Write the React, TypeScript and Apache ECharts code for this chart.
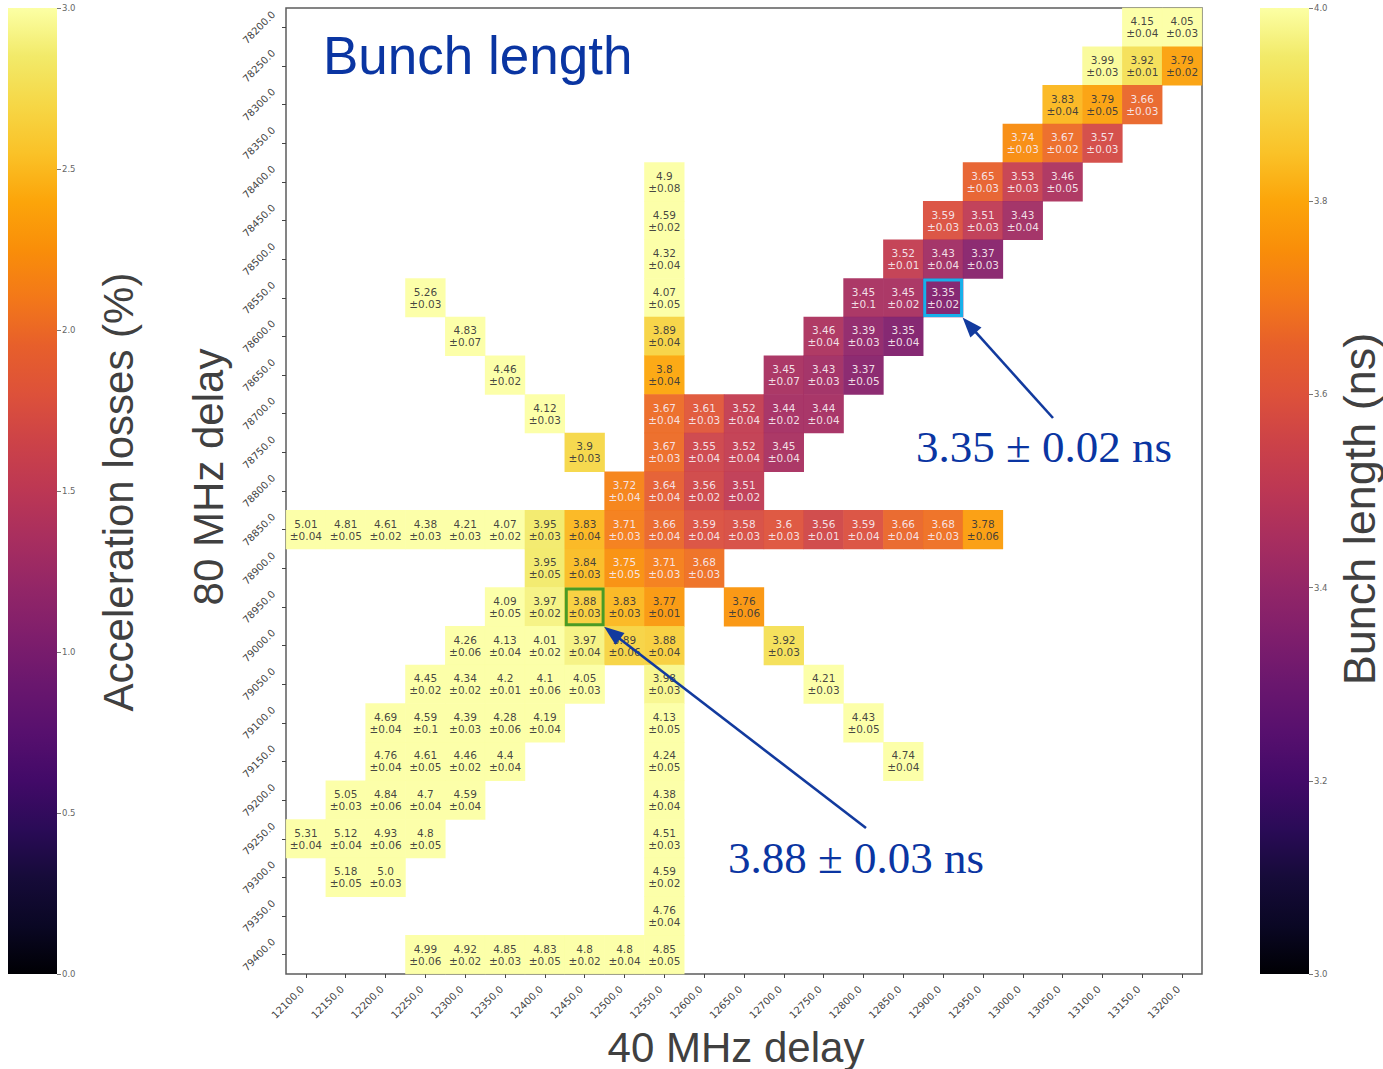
import React, { useEffect, useRef } from 'react';
import * as echarts from 'echarts';

// 40 MHz delay (x) and 80 MHz delay (y) categories
const xDelays = [12100, 12150, 12200, 12250, 12300, 12350, 12400, 12450, 12500, 12550, 12600, 12650,
  12700, 12750, 12800, 12850, 12900, 12950, 13000, 13050, 13100, 13150, 13200];
const yDelays = [78200, 78250, 78300, 78350, 78400, 78450, 78500, 78550, 78600, 78650, 78700, 78750,
  78800, 78850, 78900, 78950, 79000, 79050, 79100, 79150, 79200, 79250, 79300, 79350, 79400];

// [40 MHz delay, 80 MHz delay, bunch length (ns), uncertainty (ns)]
const cellsTop: [number, number, number, number][] = [
  [13150, 78200, 4.15, 0.04], [13200, 78200, 4.05, 0.03],
  [13100, 78250, 3.99, 0.03], [13150, 78250, 3.92, 0.01], [13200, 78250, 3.79, 0.02],
  [13050, 78300, 3.83, 0.04], [13100, 78300, 3.79, 0.05], [13150, 78300, 3.66, 0.03],
  [13000, 78350, 3.74, 0.03], [13050, 78350, 3.67, 0.02], [13100, 78350, 3.57, 0.03],
  [12550, 78400, 4.9, 0.08], [12950, 78400, 3.65, 0.03], [13000, 78400, 3.53, 0.03], [13050, 78400, 3.46, 0.05],
  [12550, 78450, 4.59, 0.02], [12900, 78450, 3.59, 0.03], [12950, 78450, 3.51, 0.03], [13000, 78450, 3.43, 0.04],
  [12550, 78500, 4.32, 0.04], [12850, 78500, 3.52, 0.01], [12900, 78500, 3.43, 0.04], [12950, 78500, 3.37, 0.03],
  [12250, 78550, 5.26, 0.03], [12550, 78550, 4.07, 0.05], [12800, 78550, 3.45, 0.1], [12850, 78550, 3.45, 0.02], [12900, 78550, 3.35, 0.02],
  [12300, 78600, 4.83, 0.07], [12550, 78600, 3.89, 0.04], [12750, 78600, 3.46, 0.04], [12800, 78600, 3.39, 0.03], [12850, 78600, 3.35, 0.04],
  [12350, 78650, 4.46, 0.02], [12550, 78650, 3.8, 0.04], [12700, 78650, 3.45, 0.07], [12750, 78650, 3.43, 0.03], [12800, 78650, 3.37, 0.05],
  [12400, 78700, 4.12, 0.03], [12550, 78700, 3.67, 0.04], [12600, 78700, 3.61, 0.03], [12650, 78700, 3.52, 0.04], [12700, 78700, 3.44, 0.02], [12750, 78700, 3.44, 0.04],
  [12450, 78750, 3.9, 0.03], [12550, 78750, 3.67, 0.03], [12600, 78750, 3.55, 0.04], [12650, 78750, 3.52, 0.04], [12700, 78750, 3.45, 0.04],
  [12500, 78800, 3.72, 0.04], [12550, 78800, 3.64, 0.04], [12600, 78800, 3.56, 0.02], [12650, 78800, 3.51, 0.02],
];
const cellsMiddle: [number, number, number, number][] = [
  [12100, 78850, 5.01, 0.04], [12150, 78850, 4.81, 0.05], [12200, 78850, 4.61, 0.02], [12250, 78850, 4.38, 0.03],
  [12300, 78850, 4.21, 0.03], [12350, 78850, 4.07, 0.02], [12400, 78850, 3.95, 0.03], [12450, 78850, 3.83, 0.04],
  [12500, 78850, 3.71, 0.03], [12550, 78850, 3.66, 0.04], [12600, 78850, 3.59, 0.04], [12650, 78850, 3.58, 0.03],
  [12700, 78850, 3.6, 0.03], [12750, 78850, 3.56, 0.01], [12800, 78850, 3.59, 0.04], [12850, 78850, 3.66, 0.04],
  [12900, 78850, 3.68, 0.03], [12950, 78850, 3.78, 0.06],
];
const cellsBottom: [number, number, number, number][] = [
  [12400, 78900, 3.95, 0.05], [12450, 78900, 3.84, 0.03], [12500, 78900, 3.75, 0.05], [12550, 78900, 3.71, 0.03], [12600, 78900, 3.68, 0.03],
  [12350, 78950, 4.09, 0.05], [12400, 78950, 3.97, 0.02], [12450, 78950, 3.88, 0.03], [12500, 78950, 3.83, 0.03], [12550, 78950, 3.77, 0.01], [12650, 78950, 3.76, 0.06],
  [12300, 79000, 4.26, 0.06], [12350, 79000, 4.13, 0.04], [12400, 79000, 4.01, 0.02], [12450, 79000, 3.97, 0.04], [12500, 79000, 3.89, 0.06], [12550, 79000, 3.88, 0.04], [12700, 79000, 3.92, 0.03],
  [12250, 79050, 4.45, 0.02], [12300, 79050, 4.34, 0.02], [12350, 79050, 4.2, 0.01], [12400, 79050, 4.1, 0.06], [12450, 79050, 4.05, 0.03], [12550, 79050, 3.98, 0.03], [12750, 79050, 4.21, 0.03],
  [12200, 79100, 4.69, 0.04], [12250, 79100, 4.59, 0.1], [12300, 79100, 4.39, 0.03], [12350, 79100, 4.28, 0.06], [12400, 79100, 4.19, 0.04], [12550, 79100, 4.13, 0.05], [12800, 79100, 4.43, 0.05],
  [12200, 79150, 4.76, 0.04], [12250, 79150, 4.61, 0.05], [12300, 79150, 4.46, 0.02], [12350, 79150, 4.4, 0.04], [12550, 79150, 4.24, 0.05], [12850, 79150, 4.74, 0.04],
  [12150, 79200, 5.05, 0.03], [12200, 79200, 4.84, 0.06], [12250, 79200, 4.7, 0.04], [12300, 79200, 4.59, 0.04], [12550, 79200, 4.38, 0.04],
  [12100, 79250, 5.31, 0.04], [12150, 79250, 5.12, 0.04], [12200, 79250, 4.93, 0.06], [12250, 79250, 4.8, 0.05], [12550, 79250, 4.51, 0.03],
  [12150, 79300, 5.18, 0.05], [12200, 79300, 5.0, 0.03], [12550, 79300, 4.59, 0.02],
  [12550, 79350, 4.76, 0.04],
  [12250, 79400, 4.99, 0.06], [12300, 79400, 4.92, 0.02], [12350, 79400, 4.85, 0.03], [12400, 79400, 4.83, 0.05],
  [12450, 79400, 4.8, 0.02], [12500, 79400, 4.8, 0.04], [12550, 79400, 4.85, 0.05],
];

// Colour scales
const bunchMin = 3.0, bunchMax = 4.0, bunchStep = 0.2;
const lossMin = 0.0, lossMax = 3.0, lossStep = 0.5;

// Highlighted cells: [40 MHz delay, 80 MHz delay, box colour, annotation text]
const highlights: [number, number, string, string][] = [
  [12900, 78550, '#17b1ea', '3.35 \u00b1 0.02 ns'],
  [12450, 78950, '#4a9b25', '3.88 \u00b1 0.03 ns'],
];

const inferno = ['#000004', '#0a0724', '#160b39', '#2a0b57', '#420a68', '#57106e', '#6a176e', '#7f1e6c',
  '#932667', '#a82e5f', '#bc3754', '#cc4248', '#dd513a', '#e75f2b', '#f37819', '#f98e09', '#fca50a',
  '#fac228', '#f6d746', '#f2ea69', '#fcffa4'];

const BLUE = '#0a35a2';
const SANS = '"Liberation Sans", Arial, sans-serif';

const fmtVal = (v: number) => (Number.isInteger(v) ? v.toFixed(1) : String(v));

function infernoGradient() {
  const n = inferno.length - 1;
  return new echarts.graphic.LinearGradient(0, 0, 0, 1,
    inferno.map((c, i) => ({ offset: 1 - i / n, color: c })).reverse());
}

function arrow(x1: number, y1: number, x2: number, y2: number, color: string) {
  const dx = x2 - x1, dy = y2 - y1;
  const len = Math.hypot(dx, dy);
  const ux = dx / len, uy = dy / len;
  const hl = 20, hw = 7.5;
  const bx = x2 - ux * hl, by = y2 - uy * hl;
  return [
    { type: 'line', z: 100, shape: { x1, y1, x2: bx + ux * 2, y2: by + uy * 2 }, style: { stroke: color, lineWidth: 2.6 } },
    {
      type: 'polygon', z: 100,
      shape: { points: [[x2, y2], [bx - uy * hw, by + ux * hw], [bx + uy * hw, by - ux * hw]] },
      style: { fill: color },
    },
  ];
}

export default function App() {
  const ref = useRef<HTMLDivElement>(null);

  useEffect(() => {
    if (!ref.current) return;
    const chart = echarts.init(ref.current, undefined, { renderer: 'svg' });
    const allCells = [...cellsTop, ...cellsMiddle, ...cellsBottom];
    const heatData = allCells.map(([x, y, v, e]) => ({
      value: [xDelays.indexOf(x), yDelays.indexOf(y), Math.min(Math.max(v, bunchMin), bunchMax), v, e],
      label: { color: v < 3.755 ? '#f7e9ef' : '#3b3b3b' },
    }));

    const tickLabel = { fontFamily: 'DejaVu Sans', fontSize: 10, color: '#444' };

    const option: any = {
      animation: false,
      backgroundColor: '#ffffff',
      grid: [
        { left: 286, top: 8, width: 916, height: 966, show: true, borderColor: '#5c5c5c', borderWidth: 1.5, backgroundColor: 'transparent' },
        { left: 8, top: 8, width: 49, height: 966 },
        { left: 1260, top: 8, width: 49, height: 966 },
      ],
      xAxis: [
        {
          type: 'category', gridIndex: 0, data: xDelays.map(String), position: 'bottom',
          axisLine: { show: false },
          axisTick: { show: true, alignWithLabel: true, length: 4, lineStyle: { color: '#444' } },
          axisLabel: { ...tickLabel, rotate: 45, interval: 0, margin: 17, align: 'right', verticalAlign: 'bottom', formatter: (v: string) => `${v}.0` },
          splitLine: { show: false },
        },
        { type: 'category', gridIndex: 1, data: [''], show: false },
        { type: 'category', gridIndex: 2, data: [''], show: false },
      ],
      yAxis: [
        {
          type: 'category', gridIndex: 0, data: yDelays.map(String), inverse: true,
          axisLine: { show: false },
          axisTick: { show: true, alignWithLabel: true, length: 4, lineStyle: { color: '#444' } },
          axisLabel: { ...tickLabel, rotate: 45, interval: 0, margin: 27, align: 'center', verticalAlign: 'middle', formatter: (v: string) => `${v}.0` },
          splitLine: { show: false },
        },
        {
          type: 'value', gridIndex: 1, position: 'right', min: lossMin, max: lossMax, interval: lossStep,
          axisLine: { show: false },
          axisTick: { show: true, length: 4, lineStyle: { color: '#777' } },
          axisLabel: { fontFamily: 'DejaVu Sans', fontSize: 8.5, color: '#666', margin: 5, formatter: (v: number) => v.toFixed(1) },
          splitLine: { show: false },
        },
        {
          type: 'value', gridIndex: 2, position: 'right', min: bunchMin, max: bunchMax, interval: bunchStep,
          axisLine: { show: false },
          axisTick: { show: true, length: 4, lineStyle: { color: '#777' } },
          axisLabel: { fontFamily: 'DejaVu Sans', fontSize: 8.5, color: '#666', margin: 5, formatter: (v: number) => v.toFixed(1) },
          splitLine: { show: false },
        },
      ],
      visualMap: [
        { type: 'continuous', show: false, seriesIndex: 0, dimension: 2, min: bunchMin, max: bunchMax, inRange: { color: inferno } },
      ],
      series: [
        {
          type: 'heatmap', xAxisIndex: 0, yAxisIndex: 0, data: heatData,
          itemStyle: { opacity: 0.95 },
          label: {
            show: true, fontFamily: 'DejaVu Sans', fontSize: 10.5, lineHeight: 12,
            formatter: (p: any) => `${fmtVal(p.value[3])}\n\u00b1${p.value[4]}`,
          },
          emphasis: { disabled: true },
        },
        {
          type: 'bar', xAxisIndex: 1, yAxisIndex: 1, data: [lossMax], barWidth: '100%',
          itemStyle: { color: infernoGradient() }, silent: true,
        },
        {
          type: 'bar', xAxisIndex: 2, yAxisIndex: 2, data: [bunchMin], stack: 'cb', barWidth: '100%',
          itemStyle: { color: 'rgba(0,0,0,0)' }, silent: true,
        },
        {
          type: 'bar', xAxisIndex: 2, yAxisIndex: 2, data: [bunchMax - bunchMin], stack: 'cb', barWidth: '100%',
          itemStyle: { color: infernoGradient() }, silent: true,
        },
      ],
    };
    chart.setOption(option);

    const cellW = 916 / xDelays.length;
    const cellH = 966 / yDelays.length;
    const graphics: any[] = [
      { type: 'text', x: 323, y: 55, style: { text: 'Bunch length', fontSize: 53, fontFamily: SANS, fill: BLUE, align: 'left', verticalAlign: 'middle' } },
      { type: 'text', x: 118, y: 492, rotation: Math.PI / 2, style: { text: 'Acceleration losses (%)', fontSize: 42, fontFamily: SANS, fill: '#404040', align: 'center', verticalAlign: 'middle' } },
      { type: 'text', x: 208, y: 477, rotation: Math.PI / 2, style: { text: '80 MHz delay', fontSize: 42, fontFamily: SANS, fill: '#404040', align: 'center', verticalAlign: 'middle' } },
      { type: 'text', x: 1359, y: 509, rotation: Math.PI / 2, style: { text: 'Bunch length (ns)', fontSize: 45, fontFamily: SANS, fill: '#404040', align: 'center', verticalAlign: 'middle' } },
      { type: 'text', x: 736, y: 1047, style: { text: '40 MHz delay', fontSize: 42, fontFamily: SANS, fill: '#404040', align: 'center', verticalAlign: 'middle' } },
    ];
    const textPos = [[1044, 447, 1053, 418], [856, 858, 866, 828]];
    highlights.forEach(([x, y, color, text], i) => {
      const [cx, cy] = chart.convertToPixel({ xAxisIndex: 0, yAxisIndex: 0 }, [xDelays.indexOf(x), yDelays.indexOf(y)]) as number[];
      const w = cellW - 3, h = cellH - 3;
      graphics.push({
        type: 'rect', z: 90, shape: { x: cx - w / 2, y: cy - h / 2, width: w, height: h },
        style: { fill: 'none', stroke: color, lineWidth: 3 },
      });
      const [tx, ty, ax, ay] = textPos[i];
      graphics.push({
        type: 'text', z: 100, x: tx, y: ty,
        style: { text, fontSize: 45, fontFamily: '"Liberation Serif", "Times New Roman", serif', fill: BLUE, align: 'center', verticalAlign: 'middle' },
      });
      graphics.push(...arrow(ax, ay, cx + w / 2 + 1, cy + h / 2 + 2, '#123a9e'));
    });
    chart.setOption({ graphic: graphics });

    return () => chart.dispose();
  }, []);

  return <div ref={ref} style={{ position: 'absolute', left: 0, top: 0, width: 1383, height: 1069 }} />;
}
